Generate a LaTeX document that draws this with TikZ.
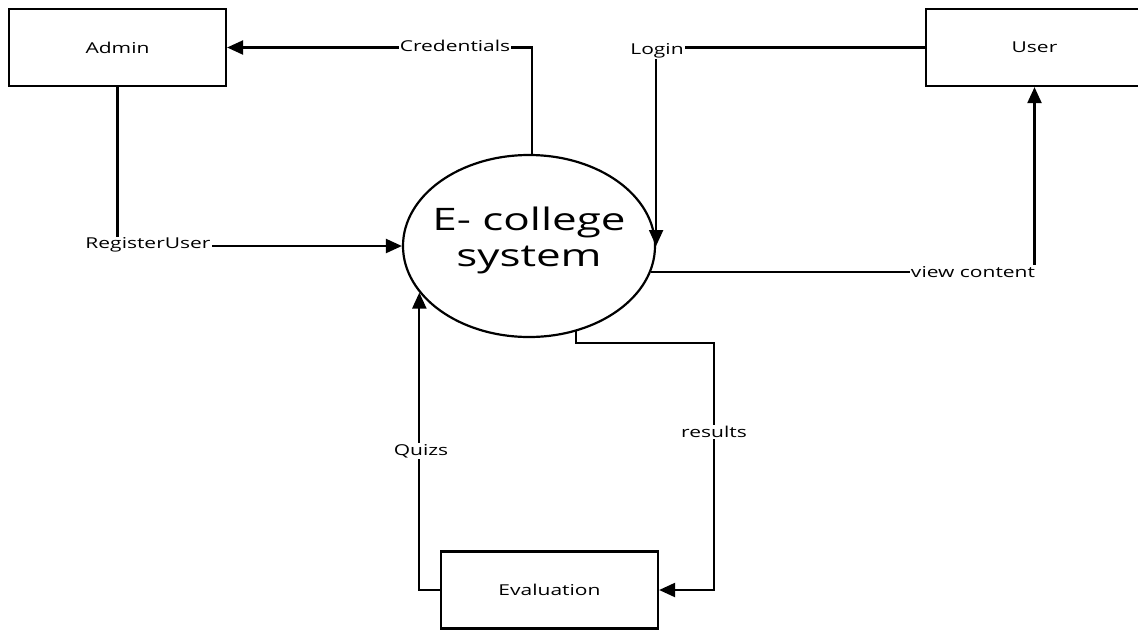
\documentclass[tikz,border=0pt]{standalone}
\usepackage{fontspec}
\setmainfont{Open Sans}
\usetikzlibrary{arrows.meta,shapes.geometric}

% horizontally widened lettering used throughout the chart
\newcommand{\widetext}[2][1.4]{\scalebox{#1}[1]{#2}}

\tikzset{
  entity/.style={draw, line width=2.2pt, minimum width=217pt, minimum height=77pt,
                 inner sep=0pt, font=\fontsize{15}{18}\selectfont},
  process/.style={draw, ellipse, line width=2.2pt, minimum width=252pt,
                  minimum height=182pt, inner sep=0pt},
  processtext/.style={align=center, inner sep=0pt, font=\fontsize{31}{36}\selectfont},
  flow/.style={line width=2.2pt, -{Triangle[length=16pt,width=14pt]}},
  flowlabel/.style={fill=white, inner sep=1pt, font=\fontsize{15}{18}\selectfont}
}

\begin{document}
\begin{tikzpicture}[x=1pt,y=-1pt]
\useasboundingbox (0,0) rectangle (1138,630);

% external entities and the central process
\node[entity] (admin) at (117.5,47.5) {\widetext{Admin}};
\node[entity] (user) at (1034.5,47.5) {\widetext{User}};
\node[entity] (eval) at (549.5,590) {\widetext{Evaluation}};
\node[process] (sys) at (529,246) {};
\node[processtext] (systext) at (529,240)
  {\widetext[1.42]{E- college}\\\widetext[1.42]{system}};

% corner of the results flow
\coordinate (rbend) at (714,343);

% data flows
\draw[flow] (sys.88) |- (admin.east);
\node[flowlabel] (lcred) at (455,46) {\widetext{Credentials}};

\draw[flow] (admin.south) |- (sys.west);
\node[flowlabel] (lreg) at (148,245) {\widetext{RegisterUser}};

\draw[flow] (user.west) -| (sys.east);
\node[flowlabel] (llogin) at (657,51) {\widetext{Login}};

\draw[flow] (sys.-12) -| (user.south);
\node[flowlabel] (lview) at (973,272) {\widetext{view content}};

\draw[flow] (sys.-61) |- (rbend) |- (eval.east);
\node[flowlabel] (lres) at (714,432) {\widetext{results}};

\draw[flow] (eval.west) -| (sys.203);
\node[flowlabel] (lquiz) at (421,451) {\widetext{Quizs}};
\end{tikzpicture}
\end{document}
